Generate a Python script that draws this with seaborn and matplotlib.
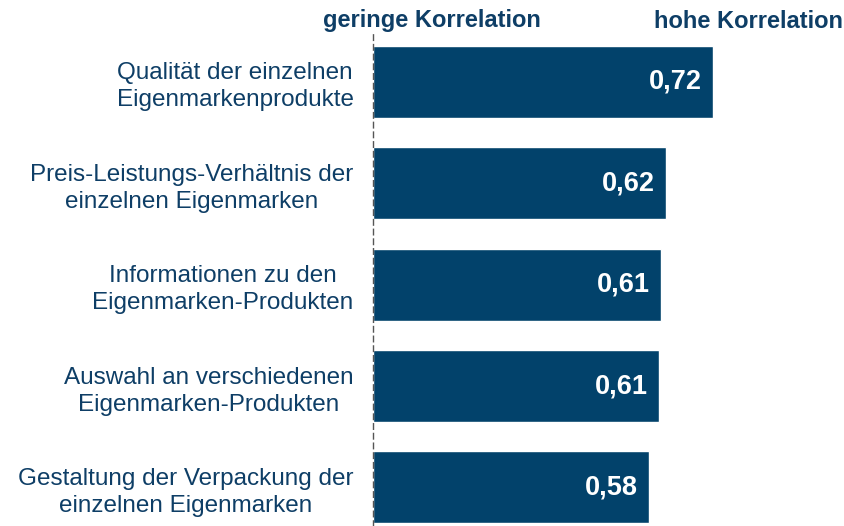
import matplotlib.pyplot as plt
import pandas as pd
import seaborn as sns

categories = [
    "Qualität der einzelnen\nEigenmarkenprodukte",
    "Preis-Leistungs-Verhältnis der\neinzelnen Eigenmarken",
    "Informationen zu den\nEigenmarken-Produkten",
    "Auswahl an verschiedenen\nEigenmarken-Produkten",
    "Gestaltung der Verpackung der\neinzelnen Eigenmarken",
]
values = [0.72, 0.62, 0.61, 0.606, 0.584]
header_low = "geringe Korrelation"
header_high = "hohe Korrelation"

bar_color = "#02426B"
text_color = "#0E3E66"

sns.set_style("white")
plt.rcParams['font.family'] = ['Liberation Sans', 'DejaVu Sans']

df = pd.DataFrame({"kategorie": categories, "wert": values})

fig = plt.figure(figsize=(8.45, 5.26), dpi=100)
ax = fig.add_axes([373 / 845, 0, 472 / 845, 1 - 31 / 526])

sns.barplot(data=df, x="wert", y="kategorie", orient="h", color=bar_color,
            saturation=1, width=0.71, ax=ax)

ax.set_xlim(0, 1.0)
ax.set_ylim(4.38, -0.5)
ax.set_xlabel("")
ax.set_ylabel("")
ax.set_xticks([])
for s in ["top", "right", "bottom"]:
    ax.spines[s].set_visible(False)
ax.spines["left"].set_linestyle((0, (4, 3)))
ax.spines["left"].set_color("#555555")
ax.spines["left"].set_linewidth(1.0)

ax.tick_params(axis="y", length=0, pad=14, labelsize=17.5, labelcolor=text_color)
for lbl in ax.get_yticklabels():
    lbl.set_multialignment("center")
    lbl.set_linespacing(1.3)

for i, v in enumerate(values):
    ax.text(v - 0.023, i, f"{v:.2f}".replace(".", ","), ha="right", va="center",
            color="white", fontsize=19.5, fontweight="bold")

fig.text(432 / 845, 1 - 21 / 526, header_low, ha="center", va="center",
         color=text_color, fontsize=17, fontweight="bold")
fig.text(843 / 845, 1 - 21 / 526, header_high, ha="right", va="center",
         color=text_color, fontsize=17, fontweight="bold")

fig.savefig("out.png", dpi=100)
